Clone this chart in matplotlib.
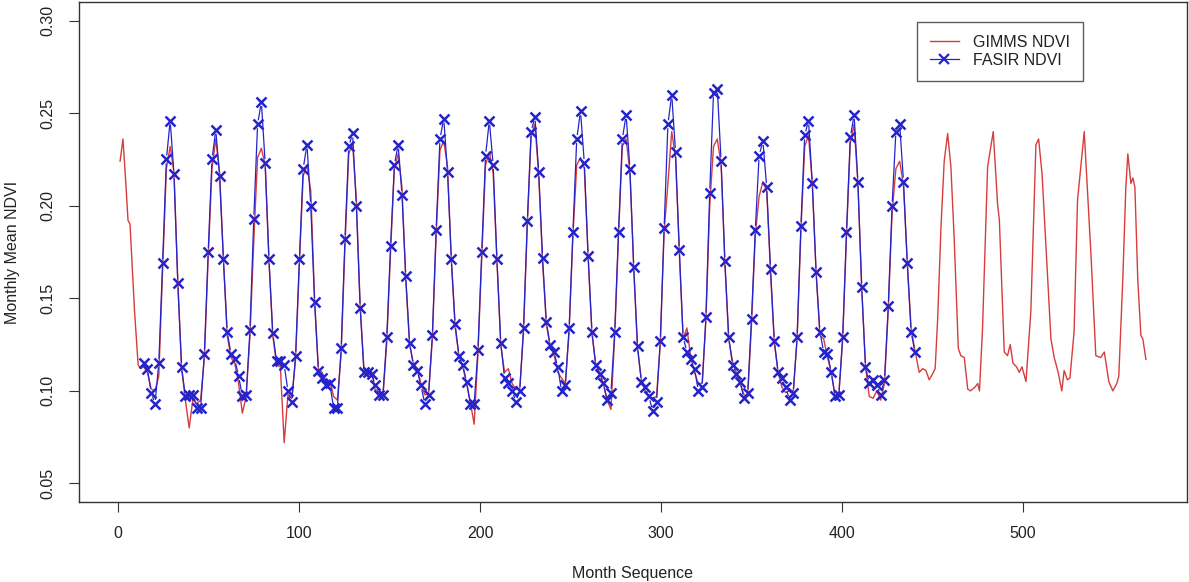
import numpy as np
import matplotlib
matplotlib.use("Agg")
import matplotlib.pyplot as plt
from matplotlib.collections import LineCollection
from matplotlib.lines import Line2D

plt.rcParams['font.family'] = ['Liberation Sans', 'DejaVu Sans']

# FASIR NDVI: one value every 2.1 steps, starting at month 14 (one row per cycle)
fasir_start = 14.0
fasir_step = 2.1
fasir_ndvi = [
    0.115, 0.112, 0.099, 0.093, 0.115, 0.169, 0.225, 0.246, 0.217, 0.158, 0.113, 0.097,
    0.098, 0.098, 0.091, 0.091, 0.120, 0.175, 0.225, 0.241, 0.216, 0.171, 0.132, 0.120,
    0.117, 0.108, 0.097, 0.098, 0.133, 0.193, 0.244, 0.256, 0.223, 0.171, 0.131, 0.116,
    0.116, 0.114, 0.100, 0.094, 0.119, 0.171, 0.220, 0.233, 0.200, 0.148, 0.111, 0.107,
    0.103, 0.104, 0.091, 0.091, 0.123, 0.182, 0.232, 0.239, 0.200, 0.145, 0.110, 0.110,
    0.109, 0.103, 0.098, 0.098, 0.129, 0.178, 0.222, 0.233, 0.206, 0.162, 0.126, 0.114,
    0.111, 0.103, 0.093, 0.098, 0.130, 0.187, 0.236, 0.247, 0.218, 0.171, 0.136, 0.119,
    0.114, 0.105, 0.093, 0.093, 0.122, 0.175, 0.227, 0.246, 0.222, 0.171, 0.126, 0.107,
    0.104, 0.100, 0.094, 0.100, 0.134, 0.192, 0.240, 0.248, 0.218, 0.172, 0.137, 0.125,
    0.121, 0.113, 0.100, 0.103, 0.134, 0.186, 0.236, 0.251, 0.223, 0.173, 0.132, 0.114,
    0.109, 0.104, 0.095, 0.099, 0.132, 0.186, 0.236, 0.249, 0.220, 0.167, 0.124, 0.105,
    0.102, 0.097, 0.089, 0.094, 0.127, 0.188, 0.244, 0.260, 0.229, 0.176, 0.129, 0.121,
    0.117, 0.112, 0.100, 0.102, 0.140, 0.207, 0.261, 0.263, 0.224, 0.170, 0.129, 0.114,
    0.109, 0.105, 0.096, 0.099, 0.139, 0.187, 0.227, 0.235, 0.210, 0.166, 0.127, 0.110,
    0.107, 0.102, 0.095, 0.099, 0.129, 0.189, 0.238, 0.246, 0.212, 0.164, 0.132, 0.121,
    0.120, 0.110, 0.097, 0.098, 0.129, 0.186, 0.237, 0.249, 0.213, 0.156, 0.113, 0.104,
    0.106, 0.103, 0.098, 0.106, 0.146, 0.200, 0.240, 0.244, 0.213, 0.169, 0.132, 0.121,
]

# GIMMS NDVI: first months, the months shared with FASIR, then the tail
gimms_head_month = [1, 2.6, 4, 5.4, 6.5, 9, 11, 12.5]
gimms_head_ndvi = [0.224, 0.236, 0.215, 0.192, 0.190, 0.143, 0.114, 0.112]

gimms_mid_ndvi = [
    0.113, 0.110, 0.101, 0.100, 0.108, 0.165, 0.220, 0.232, 0.218, 0.160, 0.112, 0.095,
    0.080, 0.096, 0.093, 0.095, 0.118, 0.172, 0.220, 0.236, 0.218, 0.172, 0.130, 0.118,
    0.115, 0.104, 0.088, 0.097, 0.130, 0.181, 0.226, 0.231, 0.222, 0.170, 0.130, 0.114,
    0.113, 0.072, 0.098, 0.096, 0.117, 0.168, 0.216, 0.222, 0.208, 0.150, 0.112, 0.110,
    0.104, 0.106, 0.097, 0.095, 0.120, 0.178, 0.228, 0.234, 0.203, 0.146, 0.112, 0.108,
    0.111, 0.100, 0.099, 0.097, 0.126, 0.175, 0.220, 0.228, 0.210, 0.160, 0.125, 0.115,
    0.112, 0.104, 0.098, 0.098, 0.128, 0.184, 0.230, 0.235, 0.221, 0.170, 0.134, 0.119,
    0.113, 0.104, 0.094, 0.082, 0.120, 0.172, 0.222, 0.229, 0.218, 0.170, 0.125, 0.110,
    0.112, 0.104, 0.101, 0.101, 0.132, 0.190, 0.238, 0.244, 0.216, 0.170, 0.136, 0.124,
    0.120, 0.110, 0.107, 0.104, 0.132, 0.184, 0.222, 0.226, 0.220, 0.172, 0.131, 0.114,
    0.110, 0.104, 0.095, 0.090, 0.130, 0.184, 0.232, 0.236, 0.218, 0.166, 0.123, 0.106,
    0.100, 0.097, 0.096, 0.097, 0.126, 0.186, 0.212, 0.240, 0.226, 0.175, 0.128, 0.134,
    0.118, 0.110, 0.104, 0.104, 0.138, 0.200, 0.232, 0.236, 0.222, 0.168, 0.128, 0.116,
    0.110, 0.104, 0.098, 0.097, 0.136, 0.184, 0.205, 0.213, 0.208, 0.164, 0.126, 0.110,
    0.102, 0.099, 0.100, 0.100, 0.128, 0.186, 0.232, 0.238, 0.212, 0.164, 0.130, 0.128,
    0.118, 0.110, 0.097, 0.099, 0.128, 0.184, 0.234, 0.244, 0.212, 0.156, 0.113, 0.097,
    0.096, 0.100, 0.095, 0.104, 0.144, 0.196, 0.220, 0.224, 0.211, 0.169, 0.134, 0.122,
]

gimms_tail_month = [442.7, 444.6, 446.4, 448.2, 450, 451.5, 452.9, 454.7, 456.5, 458.4,
                    460.2, 462, 464.3, 465.7, 467.6, 469.5, 471, 473.5, 475, 476,
                    477.7, 480.5, 483.6, 486, 487, 489.7, 491.5, 493, 494.5, 496.5,
                    498, 499.5, 501.7, 504.4, 507.2, 508.7, 510.6, 512.7, 515.5, 517.3,
                    519.5, 521.5, 522.8, 524.6, 526, 528.3, 530.2, 533.9, 537.6, 540.3,
                    543, 545, 547.5, 549.7, 551.9, 553, 555.2, 556.9, 558, 559.7,
                    560.8, 561.9, 563.5, 565.2, 566.3, 568]
gimms_tail_ndvi = [0.110, 0.112, 0.111, 0.106, 0.109, 0.112, 0.139, 0.188, 0.224, 0.239,
                   0.221, 0.183, 0.123, 0.119, 0.118, 0.101, 0.100, 0.102, 0.104, 0.100,
                   0.134, 0.221, 0.240, 0.201, 0.192, 0.121, 0.119, 0.125, 0.115, 0.113,
                   0.110, 0.113, 0.105, 0.143, 0.233, 0.236, 0.217, 0.179, 0.128, 0.118,
                   0.110, 0.100, 0.111, 0.106, 0.107, 0.132, 0.203, 0.240, 0.174, 0.119,
                   0.118, 0.121, 0.105, 0.100, 0.104, 0.108, 0.160, 0.210, 0.228, 0.212,
                   0.215, 0.210, 0.160, 0.130, 0.128, 0.117]

red = '#d83c3c'
blue = '#2424cc'
dark = '#333333'

fasir_month = fasir_start + fasir_step * np.arange(len(fasir_ndvi))
gimms_month = np.concatenate([gimms_head_month, fasir_month, gimms_tail_month])
gimms_ndvi = np.concatenate([gimms_head_ndvi, gimms_mid_ndvi, gimms_tail_ndvi])


def gap_segments(ax, x, y, gap):
    # R type="b": line pieces stop short of each point
    pts = ax.transData.transform(np.column_stack([x, y]))
    inv = ax.transData.inverted()
    segs = []
    for p0, p1 in zip(pts[:-1], pts[1:]):
        d = p1 - p0
        L = np.hypot(d[0], d[1])
        if L <= 2 * gap:
            continue
        u = d / L
        segs.append(inv.transform(np.array([p0 + u * gap, p1 - u * gap])))
    return segs


fig = plt.figure(figsize=(11.89, 5.82), dpi=100)
ax = fig.add_axes([79 / 1189, 80 / 582, 1108 / 1189, 500 / 582])
ax.set_xlim(-21.7, 590.7)
ax.set_ylim(0.04, 0.31)

ax.plot(gimms_month, gimms_ndvi, color=red, lw=1.0, zorder=2)
ax.add_collection(LineCollection(gap_segments(ax, fasir_month, fasir_ndvi, 4.0),
                                 colors=blue, linewidths=0.9, zorder=3))
ax.plot(fasir_month, fasir_ndvi, ls='none', marker='x', ms=6.5, mew=1.8,
        color=blue, zorder=4)

ax.set_xticks([0, 100, 200, 300, 400, 500])
ax.set_yticks([0.05, 0.10, 0.15, 0.20, 0.25, 0.30])
ax.set_yticklabels(['0.05', '0.10', '0.15', '0.20', '0.25', '0.30'])
ax.tick_params(axis='both', length=7, width=0.8, color=dark, labelsize=11.5,
               labelcolor='#222222')
ax.tick_params(axis='x', pad=10)
ax.tick_params(axis='y', pad=10, labelrotation=90)
for lab in ax.get_yticklabels():
    lab.set_va('center')
for s in ax.spines.values():
    s.set_color(dark)
    s.set_linewidth(1.0)

ax.set_xlabel('Month Sequence', fontsize=11.5, color='#222222')
ax.set_ylabel('Monthly Mean NDVI', fontsize=11.5, color='#222222')
ax.xaxis.set_label_coords(0.5, -0.128)
ax.yaxis.set_label_coords(-0.053, 0.5)

handles = [Line2D([], [], color=red, lw=1.0),
           Line2D([], [], color=blue, lw=0.9, marker='x', ms=6.5, mew=1.6)]
leg = ax.legend(handles, ['GIMMS NDVI', 'FASIR NDVI'], loc='upper left',
                bbox_to_anchor=(0.7563, 0.96), fontsize=11.5, frameon=True,
                fancybox=False, edgecolor=dark, borderpad=0.8, labelspacing=0.2,
                handlelength=1.8, handletextpad=0.9, borderaxespad=0)
leg.get_frame().set_linewidth(1.0)
for t in leg.get_texts():
    t.set_color('#222222')

fig.savefig('out.png', dpi=100)
